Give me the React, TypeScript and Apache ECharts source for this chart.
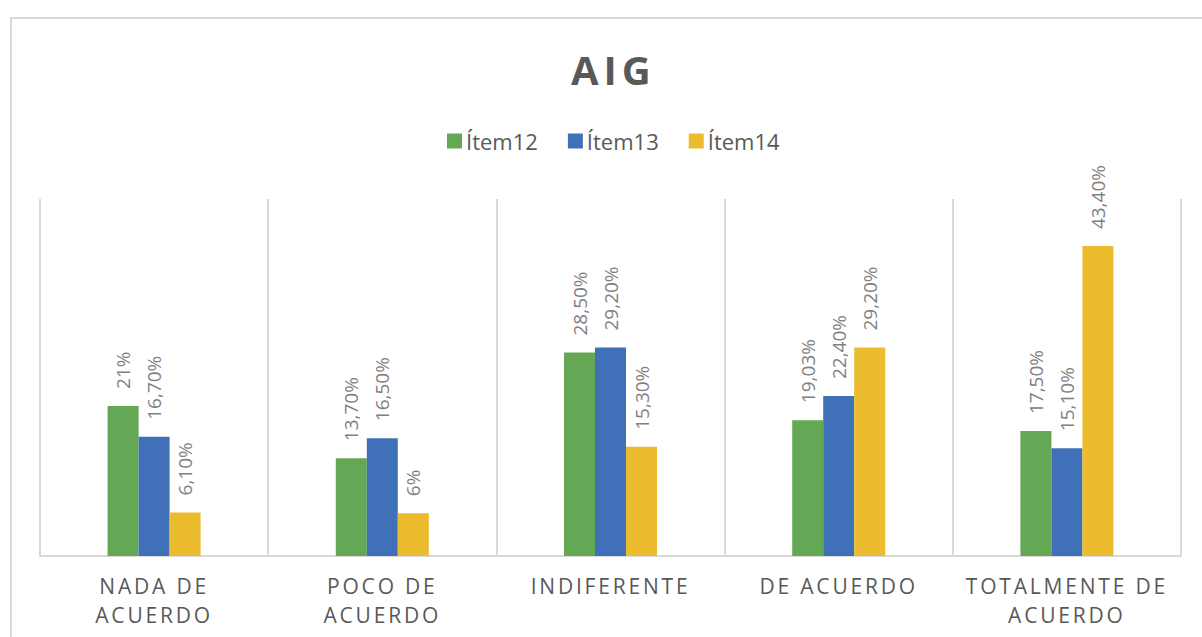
import React, { useEffect, useRef } from "react";
import * as echarts from "echarts";

const categories = ["NADA DE\nACUERDO", "POCO DE\nACUERDO", "INDIFERENTE", "DE ACUERDO", "TOTALMENTE DE\nACUERDO"];
const seriesNames = ["Ítem12", "Ítem13", "Ítem14"];
const item12 = [21, 13.7, 28.5, 19.03, 17.5];
const item13 = [16.7, 16.5, 29.2, 22.4, 15.1];
const item14 = [6.1, 6, 15.3, 29.2, 43.4];
const colors = ["#64A755", "#4070B7", "#EBBD2E"];

const FONT = "'Open Sans', 'Noto Sans', sans-serif";

const CSS = `
#aig-chart svg text[style*="21px"] { letter-spacing: 2.8px; }
#aig-chart svg text[style*="40px"] { letter-spacing: 5px; }
`;

function fmt(v: number): string {
  return Number.isInteger(v) ? `${v}%` : `${v.toFixed(2).replace(".", ",")}%`;
}

export default function App() {
  const ref = useRef<HTMLDivElement>(null);
  useEffect(() => {
    if (!ref.current) return;
    const chart = echarts.init(ref.current, undefined, { renderer: "svg" });
    const allData = [item12, item13, item14];
    chart.setOption({
      animation: false,
      backgroundColor: "#ffffff",
      textStyle: { fontFamily: FONT },
      graphic: [
        {
          type: "rect",
          shape: { x: 11, y: 18, width: 1300, height: 700 },
          style: { fill: "none", stroke: "#d9d9d9", lineWidth: 2 },
          silent: true,
        },
      ],
      title: {
        text: "AIG",
        left: 566,
        top: 44,
        textStyle: { fontFamily: FONT, fontSize: 40, fontWeight: "bold", color: "#595959" },
      },
      legend: {
        data: seriesNames,
        top: 125,
        left: 442,
        icon: "rect",
        itemWidth: 15,
        itemHeight: 15,
        itemGap: 30,
        textStyle: { fontFamily: FONT, fontSize: 22, color: "#595959", padding: [0, 0, 0, -1] },
      },
      grid: { left: 40, right: 21, top: 199, bottom: 81, containLabel: false, outerBoundsMode: "none" },
      xAxis: {
        type: "category",
        data: categories,
        axisTick: { show: false },
        axisLine: { lineStyle: { color: "#d9d9d9", width: 2 } },
        splitLine: { show: true, lineStyle: { color: "#d9d9d9", width: 2 } },
        axisLabel: {
          margin: 15,
          fontFamily: FONT,
          fontSize: 21,
          lineHeight: 29,
          color: "#595959",
          interval: 0,
        },
      },
      yAxis: { type: "value", min: 0, max: 50, show: false, splitLine: { show: false } },
      series: seriesNames.map((name, i) => ({
        name,
        type: "bar",
        data: allData[i],
        barWidth: 31,
        barGap: "0%",
        itemStyle: { color: colors[i] },
        label: {
          show: true,
          position: "top",
          rotate: 90,
          align: "left",
          verticalAlign: "middle",
          distance: 17,
          fontFamily: FONT,
          fontSize: 19,
          color: "#808080",
          formatter: (p: any) => fmt(p.value),
        },
      })),
    });
    return () => chart.dispose();
  }, []);
  return (
    <>
      <style>{CSS}</style>
      <div
        id="aig-chart"
        ref={ref}
        style={{ position: "fixed", left: 0, top: 0, width: 1202, height: 637 }}
      />
    </>
  );
}
